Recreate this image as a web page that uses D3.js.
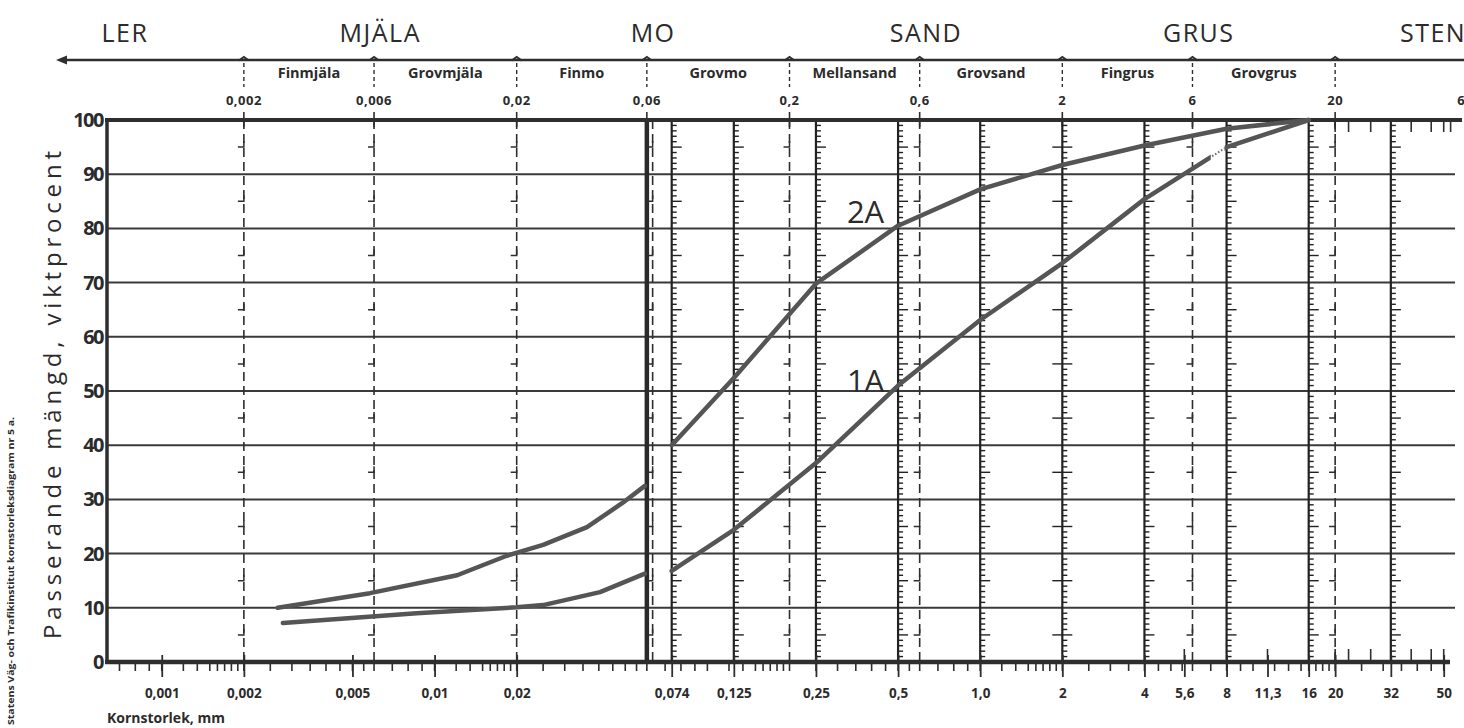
<!DOCTYPE html>
<html><head><meta charset="utf-8">
<script src="https://cdn.jsdelivr.net/npm/d3@7"></script>
<style>
html,body{margin:0;padding:0;background:#fff;}
svg{display:block;}
text{font-family:"Open Sans","DejaVu Sans",sans-serif;fill:#2b2b2b;}
</style></head><body>
<svg id="chart" width="1464" height="728"></svg>
<script>
// ---------- data ----------
const mainClasses = ["LER","MJÄLA","MO","SAND","GRUS","STEN"];
const mainBounds = [0.0002,0.002,0.02,0.2,2,20,200];
const subClasses = ["Finmjäla","Grovmjäla","Finmo","Grovmo","Mellansand","Grovsand","Fingrus","Grovgrus"];
const subBounds = [0.002,0.006,0.02,0.06,0.2,0.6,2,6,20];
const boundaryValues = [0.002,0.006,0.02,0.06,0.2,0.6,2,6,20,60];
const boundaryLabels = ["0,002","0,006","0,02","0,06","0,2","0,6","2","6","20","60"];
const bottomTickValues = [0.001,0.002,0.005,0.01,0.02,0.074,0.125,0.25,0.5,1,2,4,5.6,8,11.3,16,20,32,50];
const bottomTickLabels = ["0,001","0,002","0,005","0,01","0,02","0,074","0,125","0,25","0,5","1,0","2","4","5,6","8","11,3","16","20","32","50"];
const sieveSizes = [0.074,0.125,0.25,0.5,1,2,4,8,16,32];
const dashedSizes = [0.002,0.006,0.02,0.063,0.2,0.6,6,20];
const separatorSize = 0.06;
const minorMultipliers = [1,1.2,1.35,1.5,1.6,1.7,1.8,1.9,2,2.5,3,3.5,4,4.5,5,5.5,6,7,8,9];
const upTickSizes = [5.6,11.3,20,22.4,27,38,45,50];
const topTickSizes = [20,22.4,27,38,45,50,53];
const percentTicks = [0,10,20,30,40,50,60,70,80,90,100];
const sizeDomain = [0.00063,55];

// curve 2A (hydrometer part, then sieve part)
const hydro2A_size = [0.00266,0.0058,0.0121,0.0184,0.025,0.0362,0.0487,0.059];
const hydro2A_pct  = [10.0,12.7,16.0,19.6,21.6,24.9,29.3,32.5];
const curveSieveSizes = [0.074,0.125,0.25,0.5,1,2,4,8,16];
const sieve2A_pct  = [40,52.4,69.8,80.5,87.2,91.7,95.3,98.4,100];
// curve 1A
const hydro1A_size = [0.00278,0.0086,0.02,0.025,0.0404,0.059];
const hydro1A_pct  = [7.2,9.0,10.1,10.5,12.9,16.3];
const sieve1A_pct  = [16.8,24.4,36.7,51,63.1,73.6,85.4,95,100];
const curveNames = ["2A","1A"];
const curveLabelAt = [[0.38,81],[0.38,49.8]];

// ---------- layout ----------
const svg = d3.select("#chart");
const L = 107, R = 1455, T = 120, B = 662;
const x = d3.scaleLog().domain(sizeDomain).range([L, R]);
const y = d3.scaleLinear().domain([0,100]).range([B, T]);
const ink = "#2e2e2e";

// ---------- header ----------
const head = svg.append("g");
mainClasses.forEach((name,i)=>{
  let cx = x(Math.sqrt(mainBounds[i]*mainBounds[i+1]));
  let anchor = "middle";
  if (name==="LER") cx = 125;
  if (name==="STEN") { cx = 1400; anchor = "start"; }
  head.append("text").attr("x",cx).attr("y",42).attr("text-anchor",anchor)
    .attr("font-size",25).attr("letter-spacing",1.5).attr("fill","#333").text(name);
});
head.append("line").attr("x1",62).attr("x2",1464).attr("y1",60).attr("y2",60)
  .attr("stroke",ink).attr("stroke-width",2.5);
head.append("path").attr("d","M56,60 L67,55.5 L67,64.5 Z").attr("fill",ink);
subBounds.forEach(v=>{
  const px = x(v);
  head.append("path").attr("d",`M${px-5},60.5 L${px},57 L${px+5},60.5`).attr("fill","none").attr("stroke",ink).attr("stroke-width",2);
  head.append("line").attr("x1",px).attr("x2",px).attr("y1",63).attr("y2",87)
    .attr("stroke",ink).attr("stroke-width",1.4).attr("stroke-dasharray","4,3");
});
subClasses.forEach((name,i)=>{
  head.append("text").attr("x",x(Math.sqrt(subBounds[i]*subBounds[i+1]))).attr("y",78)
    .attr("text-anchor","middle").attr("font-size",14.5).attr("font-weight",700).text(name);
});
boundaryValues.forEach((v,i)=>{
  head.append("text").attr("x",x(v)).attr("y",105).attr("text-anchor","middle")
    .attr("font-size",13).attr("font-weight",700).attr("letter-spacing",0.5).text(boundaryLabels[i]);
  svg.append("line").attr("x1",x(v)).attr("x2",x(v)).attr("y1",112).attr("y2",127)
    .attr("stroke",ink).attr("stroke-width",1.6);
});

// ---------- grid ----------
const grid = svg.append("g");
percentTicks.filter(p=>p>0&&p<100).forEach(p=>{
  grid.append("line").attr("x1",L).attr("x2",R).attr("y1",y(p)).attr("y2",y(p))
    .attr("stroke","#3a3a3a").attr("stroke-width",2);
});
// dashed class boundaries with L marks
dashedSizes.forEach(v=>{
  const px = x(v);
  grid.append("line").attr("x1",px).attr("x2",px).attr("y1",T).attr("y2",B)
    .attr("stroke",ink).attr("stroke-width",1.6).attr("stroke-dasharray","9,5");
  d3.range(5,100,10).forEach(p=>{
    grid.append("path").attr("d",`M${px},${y(p)-6} L${px},${y(p)} L${px-6},${y(p)}`)
      .attr("fill","none").attr("stroke",ink).attr("stroke-width",1.5);
  });
});
// sieve lines with percent ticks
const pct1 = d3.range(1,100).filter(p=>p%10!==0);
sieveSizes.forEach(v=>{
  const px = x(v);
  grid.append("line").attr("x1",px).attr("x2",px).attr("y1",T).attr("y2",B)
    .attr("stroke","#222").attr("stroke-width",2.2);
  pct1.forEach(p=>{
    const len = p%5===0 ? 10 : 5;
    grid.append("line").attr("x1",px).attr("x2",px+len).attr("y1",y(p)).attr("y2",y(p))
      .attr("stroke","#222").attr("stroke-width",1.4);
    if (v===2 && p%5===0) grid.append("line").attr("x1",px-10).attr("x2",px).attr("y1",y(p)).attr("y2",y(p))
      .attr("stroke","#222").attr("stroke-width",1.4);
  });
});
// separator line
grid.append("line").attr("x1",x(separatorSize)).attr("x2",x(separatorSize)).attr("y1",T).attr("y2",B)
  .attr("stroke","#2a2a2a").attr("stroke-width",4.5);

// ---------- frame ----------
svg.append("line").attr("x1",L-2).attr("x2",1462).attr("y1",T).attr("y2",T).attr("stroke",ink).attr("stroke-width",4);
svg.append("line").attr("x1",L).attr("x2",L).attr("y1",T-2).attr("y2",B+2).attr("stroke",ink).attr("stroke-width",3.5);
svg.append("line").attr("x1",L-2).attr("x2",1450).attr("y1",B).attr("y2",B).attr("stroke",ink).attr("stroke-width",4.5);

// bottom log ticks
const minorTicks = [];
for (let k=-4;k<=1;k++) minorMultipliers.forEach(m=>{
  const v = m*Math.pow(10,k);
  if (v>sizeDomain[0]*1.03 && v<53) minorTicks.push(v);
});
svg.append("g").selectAll("line").data(minorTicks).join("line")
  .attr("x1",d=>x(d)).attr("x2",d=>x(d)).attr("y1",B).attr("y2",B+9)
  .attr("stroke",ink).attr("stroke-width",1.6);
svg.append("g").selectAll("line").data(upTickSizes).join("line")
  .attr("x1",d=>x(d)).attr("x2",d=>x(d)).attr("y1",B).attr("y2",B-13)
  .attr("stroke",ink).attr("stroke-width",1.6);
svg.append("g").selectAll("line").data(topTickSizes).join("line")
  .attr("x1",d=>x(d)).attr("x2",d=>x(d)).attr("y1",T).attr("y2",T+12)
  .attr("stroke",ink).attr("stroke-width",1.6);

const xAxis = d3.axisBottom(x).tickValues(bottomTickValues)
  .tickFormat((d,i)=>bottomTickLabels[i]).tickSize(15).tickSizeOuter(0).tickPadding(11);
const gx = svg.append("g").attr("transform",`translate(0,${B})`).call(xAxis);
gx.select(".domain").remove();
gx.selectAll(".tick line").attr("y1",-7).attr("stroke",ink).attr("stroke-width",1.8);
gx.selectAll(".tick text").attr("font-size",13.5).attr("font-weight",700)
  .attr("font-family","'Open Sans',sans-serif").attr("fill","#2b2b2b");

const yAxis = d3.axisLeft(y).tickValues(percentTicks).tickSize(0).tickPadding(3);
const gy = svg.append("g").attr("transform",`translate(${L-1},0)`).call(yAxis);
gy.select(".domain").remove();
gy.selectAll(".tick text").attr("font-size",20).attr("font-weight",700).attr("letter-spacing",-1.5)
  .attr("font-family","'Open Sans',sans-serif").attr("fill","#2b2b2b");

// ---------- curves ----------
const line = d3.line().x(d=>x(d[0])).y(d=>y(d[1]));
const curveStyle = s=>s.attr("fill","none").attr("stroke","#555").attr("stroke-width",4.5)
  .attr("stroke-linejoin","round").attr("stroke-linecap","round");
const seg = (sizes,pcts)=>sizes.map((s,i)=>[s,pcts[i]]);

svg.append("path").datum(seg(hydro2A_size,hydro2A_pct)).attr("d",line).call(curveStyle);
svg.append("path").datum(seg(curveSieveSizes,sieve2A_pct)).attr("d",line).call(curveStyle);
svg.append("path").datum(seg(hydro1A_size,hydro1A_pct)).attr("d",line).call(curveStyle);

// 1A sieve curve: partly dotted between ~7 and 8 mm
const defs = svg.append("defs");
const gapA = x(7), gapB = x(8)-2;
defs.append("clipPath").attr("id","solidPart").call(c=>{
  c.append("rect").attr("x",0).attr("y",0).attr("width",gapA).attr("height",728);
  c.append("rect").attr("x",gapB).attr("y",0).attr("width",1464-gapB).attr("height",728);
});
defs.append("clipPath").attr("id","dotPart").append("rect")
  .attr("x",gapA).attr("y",0).attr("width",gapB-gapA).attr("height",728);
const s1A = seg(curveSieveSizes,sieve1A_pct);
svg.append("path").datum(s1A).attr("d",line).call(curveStyle).attr("clip-path","url(#solidPart)");
svg.append("path").datum(s1A).attr("d",line).attr("fill","none").attr("stroke","#666")
  .attr("stroke-width",2).attr("stroke-dasharray","1.5,2").attr("clip-path","url(#dotPart)");

curveNames.forEach((n,i)=>{
  svg.append("text").attr("x",x(curveLabelAt[i][0])).attr("y",y(curveLabelAt[i][1]))
    .attr("text-anchor","middle").attr("font-size",31).attr("fill","#333").text(n);
});

// ---------- titles ----------
svg.append("text").attr("transform","translate(61,395) rotate(-90)").attr("text-anchor","middle")
  .attr("font-size",24).attr("textLength",488).attr("lengthAdjust","spacing")
  .attr("fill","#333").text("Passerande mängd, viktprocent");
svg.append("text").attr("x",L).attr("y",723).attr("font-size",14).attr("font-weight",700)
  .text("Kornstorlek, mm");
svg.append("text").attr("transform","translate(14,725) rotate(-90)").attr("text-anchor","start")
  .attr("font-size",8.5).attr("font-weight",700).attr("textLength",308).attr("lengthAdjust","spacingAndGlyphs")
  .text("Statens Väg- och Trafikinstitut kornstorleksdiagram nr 5 a.");
</script>
</body></html>
